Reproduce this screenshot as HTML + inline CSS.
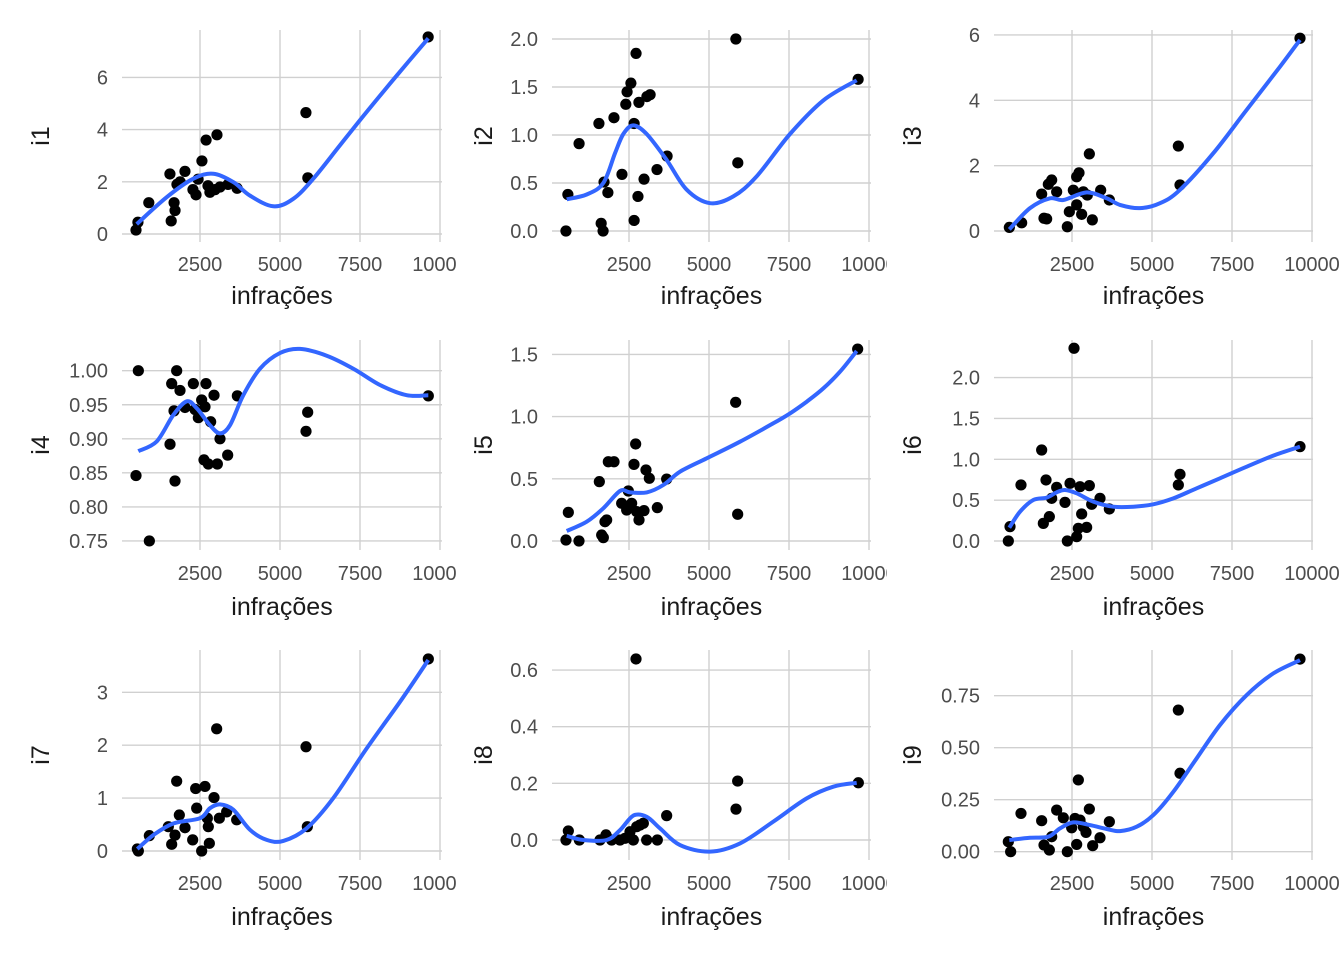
<!DOCTYPE html>
<html><head><meta charset="utf-8"><style>
html,body{margin:0;padding:0;background:#fff;}
svg{display:block;font-family:"Liberation Sans",Arial,sans-serif;}
</style></head><body>
<svg id="chart" width="1344" height="960" viewBox="0 0 1344 960"></svg>
<script>
// ---- data ----
const titles = ["i1","i2","i3","i4","i5","i6","i7","i8","i9"];
const p1x=[500,560,900,1560,1600,1690,1720,1780,1880,2030,2280,2375,2440,2560,2690,2750,2810,3030,2970,3125,3375,3660,5810,5870,9630];
const p1y=[0.15,0.45,1.2,2.3,0.5,1.2,0.9,1.9,2.0,2.4,1.7,1.5,2.1,2.8,3.6,1.85,1.6,3.8,1.7,1.8,1.9,1.75,4.65,2.15,7.55];
const s1x=[521,1458,2292,2917,3542,4063,4792,5417,6042,6875,7708,8750,9635];
const s1y=[0.38,1.41,2.12,2.31,1.99,1.47,1.06,1.35,2.12,3.40,4.68,6.22,7.50];
const p2x=[530,590,940,1560,1630,1690,1720,1840,2030,2280,2400,2440,2560,2660,2660,2720,2780,2810,2970,3060,3160,3375,3690,5840,5900,9660];
const p2y=[0,0.38,0.91,1.12,0.08,0,0.51,0.4,1.18,0.59,1.32,1.45,1.54,0.11,1.12,1.85,0.36,1.34,0.54,1.40,1.42,0.64,0.78,2.0,0.71,1.58];
const s2x=[552,1177,1698,2063,2323,2635,3052,3677,4302,5031,5760,6490,7531,8573,9615];
const s2y=[0.33,0.38,0.50,0.81,1.01,1.10,1.01,0.74,0.43,0.29,0.36,0.57,1.01,1.36,1.57];
const p3x=[542,927,1625,1708,1552,1760,1865,2021,2354,2417,2542,2646,2719,2646,2802,2854,2979,3135,3042,3396,3667,5823,5875,9625];
const p3y=[0.11,0.25,0.39,0.37,1.13,1.43,1.56,1.20,0.13,0.59,1.25,1.66,1.78,0.80,0.51,1.20,1.10,0.34,2.36,1.25,0.95,2.60,1.41,5.90];
const s3x=[542,1188,1813,2229,2958,3583,4000,4625,5250,5875,6917,7958,9000,9625];
const s3y=[0.05,0.70,1.00,0.95,1.18,1.00,0.80,0.70,0.85,1.26,2.38,3.71,5.03,5.85];
const p4x=[573,500,917,1563,1719,1615,1771,1875,1688,2031,2292,2344,2448,2552,2688,2656,2833,2938,3125,2625,2760,3042,3365,3667,5865,5813,9635];
const p4y=[1.000,0.846,0.750,0.892,0.838,0.981,1.000,0.971,0.941,0.946,0.981,0.943,0.931,0.957,0.981,0.947,0.925,0.964,0.900,0.869,0.863,0.863,0.876,0.963,0.939,0.911,0.963];
const s4x=[573,1146,1667,2083,2396,2813,3125,3438,3854,4375,5000,5625,6458,7292,8125,8958,9635];
const s4y=[0.882,0.896,0.935,0.955,0.945,0.920,0.908,0.920,0.964,1.003,1.026,1.032,1.022,1.003,0.979,0.964,0.964];
const p5x=[531,937,604,1646,1698,1750,1802,1573,1854,2031,2656,2708,3031,3135,3677,2479,2271,2427,2583,2740,2813,2969,3385,5833,5896,9646];
const p5y=[0.008,0,0.23,0.048,0.027,0.155,0.169,0.477,0.637,0.637,0.616,0.780,0.571,0.504,0.498,0.402,0.303,0.249,0.303,0.236,0.169,0.244,0.268,1.115,0.215,1.543];
const s5x=[552,1177,1698,2219,2531,3052,3573,4094,4927,5969,7010,7531,8052,8573,9094,9615];
const s5y=[0.080,0.155,0.263,0.402,0.391,0.391,0.450,0.557,0.665,0.798,0.946,1.026,1.120,1.227,1.361,1.527];
const p6x=[510,563,906,1552,1604,1792,1688,1865,2021,2281,2438,2563,2354,2646,2698,2802,2958,2750,3042,3115,3375,3667,5823,5875,9625];
const p6y=[0,0.176,0.686,1.114,0.216,0.298,0.747,0.522,0.657,0.473,0.706,2.359,0,0.053,0.155,0.331,0.167,0.665,0.678,0.449,0.522,0.392,0.686,0.816,1.155];
const s6x=[542,875,1292,1708,2021,2281,2646,3167,3792,4417,5042,5667,6396,7125,7958,8792,9625];
const s6y=[0.163,0.359,0.502,0.531,0.596,0.624,0.584,0.482,0.420,0.420,0.449,0.522,0.645,0.767,0.910,1.045,1.155];
const p7x=[542,573,917,1510,1615,1719,1854,1771,2031,2271,2396,2365,2552,2656,2729,2792,2760,2938,3021,3104,3333,3646,5813,5854,9635];
const p7y=[0.038,0,0.29,0.46,0.126,0.30,0.68,1.32,0.44,0.21,0.81,1.18,0,1.22,0.62,0.145,0.46,1.01,2.31,0.62,0.74,0.59,1.97,0.46,3.63];
const s7x=[542,1042,1667,2500,2813,3125,3542,4063,4583,5104,5833,6667,7708,8750,9635];
const s7y=[0.038,0.30,0.52,0.62,0.81,0.88,0.78,0.40,0.21,0.19,0.43,1.00,1.94,2.82,3.61];
const p8x=[531,604,948,1594,1781,1958,2219,2375,2531,2635,2740,2844,2948,3052,3385,2719,3677,5896,5844,9667];
const p8y=[0,0.032,0,0,0.018,0,0,0.006,0.029,0,0.047,0.053,0.059,0,0,0.639,0.086,0.208,0.109,0.202];
const s8x=[552,1073,1802,2219,2635,3052,3469,4094,5031,5969,7010,8052,8885,9615];
const s8y=[0.015,0,0,0.035,0.086,0.082,0.041,-0.018,-0.041,-0.012,0.065,0.147,0.188,0.202];
const p9x=[510,583,906,1552,1625,1792,1865,2021,2229,2354,2490,2646,2698,2594,2750,2854,2938,3042,3146,3375,3667,5823,5875,9625];
const p9y=[0.048,0,0.184,0.149,0.032,0.008,0.072,0.20,0.163,0,0.115,0.035,0.345,0.16,0.152,0.12,0.093,0.205,0.029,0.067,0.144,0.681,0.377,0.926];
const s9x=[542,1188,1760,2125,2542,3063,3583,4000,4521,5042,5667,6396,7125,7958,8792,9625];
const s9y=[0.056,0.067,0.072,0.112,0.141,0.128,0.109,0.099,0.12,0.176,0.288,0.449,0.609,0.753,0.857,0.921];
const xTicks=[2500,5000,7500,10000];
const yTicks1=[0,2,4,6], yTicks2=[0,0.5,1,1.5,2], yTicks3=[0,2,4,6];
const yTicks4=[0.75,0.8,0.85,0.9,0.95,1], yTicks5=[0,0.5,1,1.5], yTicks6=[0,0.5,1,1.5,2];
const yTicks7=[0,1,2,3], yTicks8=[0,0.2,0.4,0.6], yTicks9=[0,0.25,0.5,0.75];
const yLab1=["0","2","4","6"], yLab2=["0.0","0.5","1.0","1.5","2.0"], yLab3=["0","2","4","6"];
const yLab4=["0.75","0.80","0.85","0.90","0.95","1.00"], yLab5=["0.0","0.5","1.0","1.5"], yLab6=["0.0","0.5","1.0","1.5","2.0"];
const yLab7=["0","1","2","3"], yLab8=["0.0","0.2","0.4","0.6"], yLab9=["0.00","0.25","0.50","0.75"];

// ---- layout ----
const NS="http://www.w3.org/2000/svg";
const svg=document.getElementById('chart');
function mk(tag,attrs,parent){const e=document.createElementNS(NS,tag);for(const k in attrs)e.setAttribute(k,attrs[k]);(parent||svg).appendChild(e);return e;}
const cols=[{x0:120,l:122,r:442,clip:457,tick:108,title:40},{x0:549,l:552,r:871,clip:887,tick:538,title:483},{x0:992,l:994,r:1313,clip:1344,tick:980,title:912}];
const rows=[{t:30,b:242,tl:264,ttl:295},{t:340,b:550,tl:573,ttl:606},{t:650,b:860,tl:883,ttl:916}];
// y mapping: pixel at value va, px per unit
const ymap=[[234,0,26.1],[231,0,96],[231,0,32.67],[370.7,1,681],[541,0,124.4],[541,0,81.7],[851,0,52.9],[840,0,283.3],[851.7,0,208]];
const PX=[p1x,p2x,p3x,p4x,p5x,p6x,p7x,p8x,p9x], PY=[p1y,p2y,p3y,p4y,p5y,p6y,p7y,p8y,p9y];
const SX=[s1x,s2x,s3x,s4x,s5x,s6x,s7x,s8x,s9x], SY=[s1y,s2y,s3y,s4y,s5y,s6y,s7y,s8y,s9y];
const YT=[yTicks1,yTicks2,yTicks3,yTicks4,yTicks5,yTicks6,yTicks7,yTicks8,yTicks9];
const YL=[yLab1,yLab2,yLab3,yLab4,yLab5,yLab6,yLab7,yLab8,yLab9];

function smoothPath(pts){
  let d='M'+pts[0][0].toFixed(1)+','+pts[0][1].toFixed(1);
  for(let i=0;i<pts.length-1;i++){
    const p0=pts[Math.max(0,i-1)],p1=pts[i],p2=pts[i+1],p3=pts[Math.min(pts.length-1,i+2)];
    const c1=[p1[0]+(p2[0]-p0[0])/6,p1[1]+(p2[1]-p0[1])/6];
    const c2=[p2[0]-(p3[0]-p1[0])/6,p2[1]-(p3[1]-p1[1])/6];
    d+=' C'+c1.map(v=>v.toFixed(1))+' '+c2.map(v=>v.toFixed(1))+' '+p2.map(v=>v.toFixed(1));
  }
  return d;
}

for(let i=0;i<9;i++){
  const c=cols[i%3], r=rows[Math.floor(i/3)], ym=ymap[i];
  const sx=v=>c.x0+v*0.032;
  const sy=v=>ym[0]-(v-ym[1])*ym[2];
  const g=mk('g',{});
  
  
  const clipId='clip'+i;
  const cp=mk('clipPath',{id:clipId},g);
  mk('rect',{x:c.l-130,y:r.t-20,width:c.clip-(c.l-130),height:320},cp);
  // gridlines
  YT[i].forEach((t,j)=>{
    const ln=mk('line',{x1:c.l,x2:c.r,y1:sy(t),y2:sy(t),stroke:'#d0d0d0','stroke-width':1.4},g);
    
    
    const tx=mk('text',{x:c.tick,y:sy(t)+7,'text-anchor':'end','font-size':20,fill:'#4d4d4d'},g);
    tx.textContent=YL[i][j];
    
    
  });
  const xg=mk('g',{'clip-path':'url(#'+clipId+')'},g);
  xTicks.forEach(t=>{
    const ln=mk('line',{x1:sx(t),x2:sx(t),y1:r.t,y2:r.b,stroke:'#d0d0d0','stroke-width':1.4},xg);
    
    
    const tx=mk('text',{x:sx(t),y:r.tl+7,'text-anchor':'middle','font-size':20,fill:'#4d4d4d'},xg);
    tx.textContent=String(t);
    
    
  });
  const xt=mk('text',{x:(c.l+c.r)/2,y:r.ttl+9,'text-anchor':'middle','font-size':25,fill:'#1a1a1a'},g);
  xt.textContent='infrações';
  
  
  const cy=(r.t+r.b)/2;
  const yt=mk('text',{x:c.title+9,y:cy,'text-anchor':'middle','font-size':25,fill:'#1a1a1a',transform:'rotate(-90 '+(c.title+9)+' '+cy+')'},g);
  yt.textContent=titles[i];
  
  
  PX[i].forEach((x,k)=>{
    const p=mk('circle',{cx:sx(x),cy:sy(PY[i][k]),r:5.6,fill:'#000'},g);
    
    
  });
  const pts=SX[i].map((x,k)=>[sx(x),sy(SY[i][k])]);
  const path=mk('path',{d:smoothPath(pts),fill:'none',stroke:'#3366FF','stroke-width':4,'stroke-linecap':'butt'},g);
  
  
}
</script>
</body></html>
